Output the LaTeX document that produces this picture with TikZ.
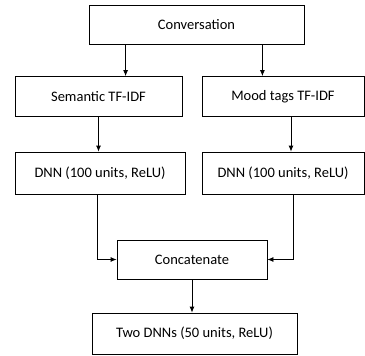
\documentclass[tikz,border=0pt]{standalone}
\usepackage{fontspec}
\setmainfont{Carlito}
\usetikzlibrary{arrows.meta}
\begin{document}
\begin{tikzpicture}[x=1pt,y=-1pt,
		box/.style={draw, line width=0.8pt, inner sep=0pt, font=\fontsize{14.5}{16}\selectfont},
		arr/.style={line width=0.8pt, -{Latex[length=6pt,width=5pt]}}]
		\useasboundingbox (0,0) rectangle (365,356);
		\node[box, minimum width=215pt, minimum height=39pt] (conv) at (196.5,24.5) {Conversation};
		\node[box, minimum width=167pt, minimum height=40pt] (sem) at (98.5,96.5) {Semantic TF-IDF};
		\node[box, minimum width=162pt, minimum height=40pt] (mood) at (283,96.5) {Mood tags TF-IDF};
		\node[box, minimum width=170pt, minimum height=42pt] (dnnl) at (100,173) {DNN (100 units, ReLU)};
		\node[box, minimum width=162pt, minimum height=42pt] (dnnr) at (283,173) {DNN (100 units, ReLU)};
		\node[box, minimum width=150pt, minimum height=39pt] (concat) at (192,259.5) {Concatenate};
		\node[box, minimum width=205pt, minimum height=41pt] (two) at (194.5,333.5) {Two DNNs (50 units, ReLU)};
		
		\draw[arr] ([xshift=37pt]conv.south west) coordinate (c1) -- (c1 |- sem.north);
		\draw[arr] ([xshift=-42pt]conv.south east) coordinate (c2) -- (c2 |- mood.north);
		\draw[arr] (sem.south) -- (sem.south |- dnnl.north);
		\draw[arr] ([xshift=8pt]mood.south) coordinate (c3) -- (c3 |- dnnr.north);
		\draw[arr] ([xshift=-3pt]dnnl.south) |- (concat.west);
		\draw[arr] ([xshift=10pt]dnnr.south) |- (concat.east);
		\draw[arr] (concat.south) -- (concat.south |- two.north);
	\end{tikzpicture}
\end{document}
